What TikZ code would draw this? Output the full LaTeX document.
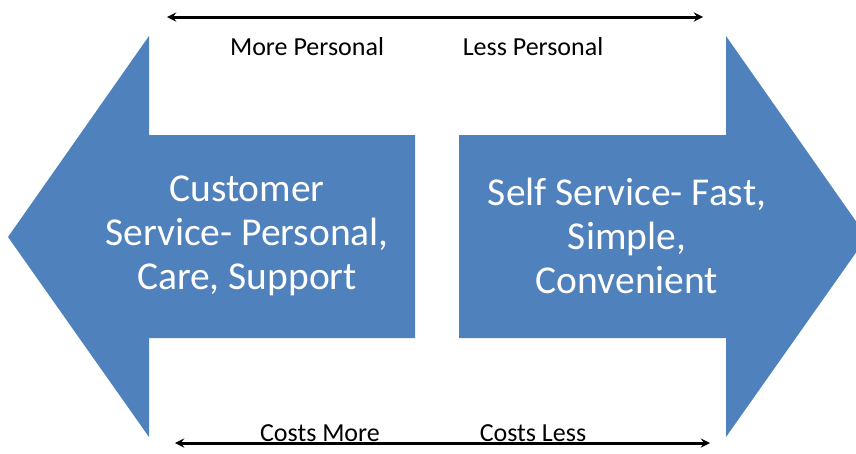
\documentclass[tikz,border=0pt]{standalone}
\usepackage{fontspec}
\setmainfont{Carlito}
\definecolor{arrowblue}{RGB}{79,129,189}
\begin{document}
\begin{tikzpicture}[x=1pt,y=-1pt,
  bigtext/.style={white,align=center,font=\fontsize{39.5}{44}\selectfont},
  smalltext/.style={anchor=base,font=\fontsize{26}{30}\selectfont},
  rangeline/.style={<->,>=stealth,line width=3pt}]
\useasboundingbox (0,0) rectangle (856,453);
\clip (0,0) rectangle (856,453);
% the two big arrows
\fill[arrowblue](8,237)--(149,36)--(149,135)--(415,135)--(415,338)--(149,338)--(149,437)--cycle;
\fill[arrowblue](867,237)--(726,36)--(726,135)--(459,135)--(459,338)--(726,338)--(726,437)--cycle;
\node[bigtext](cust) at (247,236) {Customer\\Service- Personal,\\Care, Support};
\node[bigtext](self) at (627,236) {Self Service- Fast,\\Simple,\\Convenient};
% top scale
\coordinate (tl) at (167,17);
\coordinate (tr) at (703,17);
\draw[rangeline](tl)--(tr);
\node[smalltext](morep) at (307,55) {More Personal};
\node[smalltext](lessp) at (533,55) {Less Personal};
% bottom scale
\coordinate (bl) at (175,443);
\coordinate (br) at (710,443);
\draw[rangeline](bl)--(br);
\node[smalltext](morec) at (320,441) {Costs More};
\node[smalltext](lessc) at (533,441) {Costs Less};
\end{tikzpicture}
\end{document}
